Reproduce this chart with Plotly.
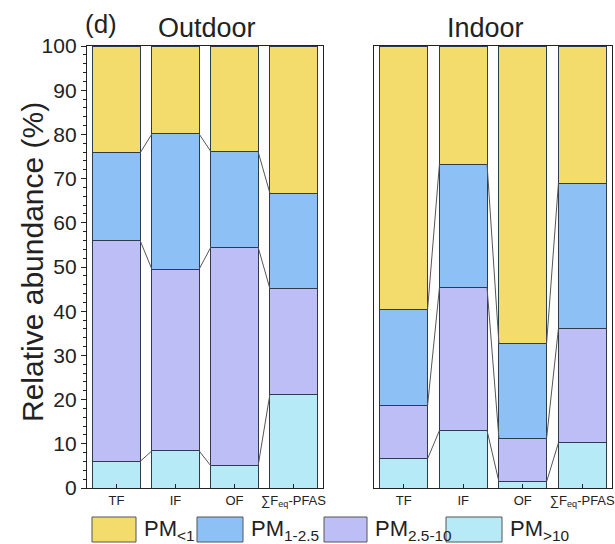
import plotly.graph_objects as go

categories = ["TF", "IF", "OF", "∑F<sub>eq</sub>-PFAS"]
series_names = ["PM<sub>>10</sub>", "PM<sub>2.5-10</sub>", "PM<sub>1-2.5</sub>", "PM<sub><1</sub>"]
colors = ["#B6EAF6", "#BEBEF7", "#8DC1F6", "#F3DC6C"]

# Outdoor (%), bottom -> top: PM>10, PM2.5-10, PM1-2.5, PM<1
outdoor_gt10 = [6.0, 8.4, 5.0, 21.2]
outdoor_25_10 = [50.0, 41.1, 49.5, 23.9]
outdoor_1_25 = [19.8, 30.6, 21.6, 21.6]
outdoor_lt1 = [24.2, 19.9, 23.9, 33.3]

# Indoor (%)
indoor_gt10 = [6.6, 13.0, 1.4, 10.2]
indoor_25_10 = [12.0, 32.3, 9.8, 25.9]
indoor_1_25 = [21.7, 28.0, 21.4, 32.9]
indoor_lt1 = [59.7, 26.7, 67.4, 31.0]

outdoor = [outdoor_gt10, outdoor_25_10, outdoor_1_25, outdoor_lt1]
indoor = [indoor_gt10, indoor_25_10, indoor_1_25, indoor_lt1]

FONT = "Arial, Liberation Sans, sans-serif"
TXT = "#222222"
BW = 0.8
xpos = list(range(len(categories)))

fig = go.Figure()


def add_panel(data, xa, ya):
    for name, vals, col in zip(series_names, data, colors):
        fig.add_trace(go.Bar(
            x=xpos, y=vals, name=name, width=BW,
            marker=dict(color=col, line=dict(color="#2F3A4A", width=1)),
            xaxis=xa, yaxis=ya, showlegend=False,
        ))
    # connecting lines between stack boundaries
    lx, ly = [], []
    cum = [0.0] * len(categories)
    for layer in data[:-1]:
        cum = [c + v for c, v in zip(cum, layer)]
        for i in range(len(categories) - 1):
            lx += [xpos[i] + BW / 2, xpos[i + 1] - BW / 2, None]
            ly += [cum[i], cum[i + 1], None]
    fig.add_trace(go.Scatter(
        x=lx, y=ly, mode="lines", line=dict(color="#555555", width=1),
        xaxis=xa, yaxis=ya, showlegend=False, hoverinfo="skip",
    ))


add_panel(outdoor, "x", "y")
add_panel(indoor, "x2", "y2")

W, H = 615, 544
def px(x):
    return x / W
def py(y):
    return 1 - y / H

xcommon = dict(
    range=[-0.5, 3.5], tickvals=xpos, ticktext=categories,
    showline=True, linecolor=TXT, linewidth=1.3, mirror=True,
    ticks="inside", ticklen=4, tickcolor=TXT,
    tickfont=dict(size=13, color=TXT, family=FONT),
    showgrid=False, zeroline=False, fixedrange=True, automargin=False,
    ticklabeloverflow="allow",
)
fig.update_layout(
    barmode="stack",
    width=W, height=H,
    margin=dict(l=0, r=0, t=0, b=0, autoexpand=False),
    paper_bgcolor="white", plot_bgcolor="white",
    font=dict(family=FONT, color=TXT),
    showlegend=False,
    xaxis=dict(domain=[px(87), px(323)], anchor="y", **xcommon),
    xaxis2=dict(domain=[px(374), px(612)], anchor="y2", **xcommon),
    yaxis=dict(
        domain=[py(488), py(46)], range=[0, 100], anchor="x",
        tickvals=list(range(0, 101, 10)),
        showline=True, linecolor=TXT, linewidth=1.3, mirror=True,
        ticks="outside", ticklen=5, tickcolor=TXT,
        minor=dict(dtick=2, ticks="outside", ticklen=3, tickcolor=TXT),
        tickfont=dict(size=21, color=TXT, family=FONT),
        showgrid=False, zeroline=False, automargin=False,
        ticklabeloverflow="allow",
    ),
    yaxis2=dict(
        domain=[py(488), py(46)], range=[0, 100], anchor="x2",
        showline=True, linecolor=TXT, linewidth=1.3, mirror=True,
        showticklabels=False, ticks="",
        showgrid=False, zeroline=False, automargin=False,
    ),
)

annotations = [
    dict(text="(d)", x=px(83), y=py(24), xanchor="left", yanchor="middle", font=dict(size=26)),
    dict(text="Outdoor", x=px(207), y=py(28), xanchor="center", yanchor="middle", font=dict(size=27)),
    dict(text="Indoor", x=px(485), y=py(28), xanchor="center", yanchor="middle", font=dict(size=27)),
    dict(text="Relative abundance (%)", x=px(32), y=py(262), xanchor="center", yanchor="middle",
         textangle=-90, font=dict(size=30)),
]

# Legend (drawn manually with big swatches)
legend_order = [3, 2, 1, 0]
sw_x = [92, 197, 324, 446]
sw_w = [44, 46, 43, 56]
shapes = []
for k, idx in enumerate(legend_order):
    x0 = sw_x[k]
    x1 = x0 + sw_w[k]
    shapes.append(dict(type="rect", xref="paper", yref="paper",
                       x0=px(x0), x1=px(x1), y0=py(542), y1=py(517),
                       fillcolor=colors[idx], line=dict(color="#555555", width=1)))
    annotations.append(dict(text=series_names[idx], x=px(x1 + 6), y=py(530),
                            xanchor="left", yanchor="middle", font=dict(size=22)))

for a in annotations:
    a.update(xref="paper", yref="paper", showarrow=False)
    a["font"].update(family=FONT, color=TXT)

fig.update_layout(annotations=annotations, shapes=shapes)

fig.write_html("out.html")
